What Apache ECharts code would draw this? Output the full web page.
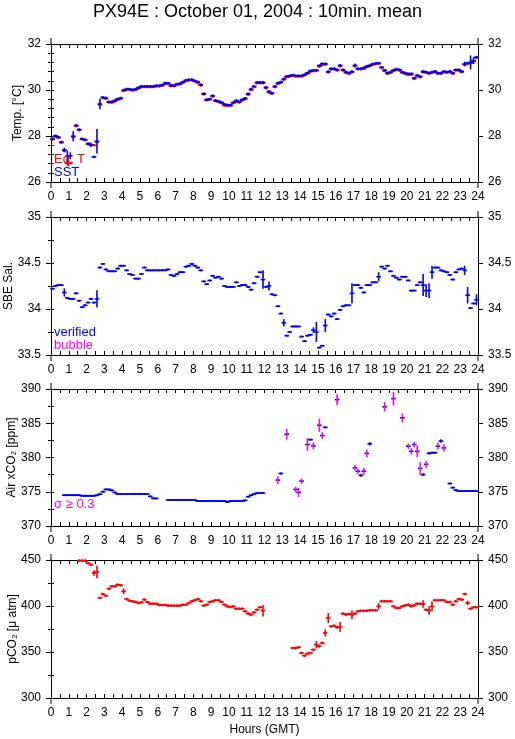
<!DOCTYPE html>
<html><head><meta charset="utf-8">
<script src="https://cdn.jsdelivr.net/npm/echarts@6/dist/echarts.min.js"></script>
<style>html,body{margin:0;padding:0;background:#fff}#c{width:515px;height:739px}</style>
</head><body><div id="c"></div>
<script>
// ---------- DATA (10-minute bins, 6 per hour, bin centres at (i+0.5)/6 h) ----------
const hourTicks = [0,1,2,3,4,5,6,7,8,9,10,11,12,13,14,15,16,17,18,19,20,21,22,23,24];
const tempTicks = [26,28,30,32];
const salTicks  = [33.5,34,34.5,35];
const xco2Ticks = [370,375,380,385,390];
const pco2Ticks = [300,350,400,450];

const sst = [
 27.88,28.01,27.95,27.74,27.39,27.12, 27.14,27.99,28.46,28.28,27.88,27.84,
 27.67,27.62,27.09,27.77,29.39,29.68, 29.65,29.49,29.49,29.54,29.61,29.65,
 29.99,30.04,30.04,30.01,30.04,30.10, 30.16,30.16,30.16,30.16,30.16,30.19,
 30.19,30.22,30.30,30.30,30.20,30.20, 30.26,30.28,30.35,30.42,30.45,30.45,
 30.40,30.35,30.23,29.84,29.58,29.61, 29.75,29.55,29.51,29.46,29.38,29.35,
 29.35,29.46,29.54,29.49,29.58,29.64, 29.84,30.04,30.16,30.33,30.33,30.33,
 30.12,29.94,29.87,30.16,30.30,30.35, 30.48,30.59,30.62,30.65,30.62,30.62,
 30.62,30.67,30.74,30.83,30.86,30.86, 31.06,31.14,31.14,30.80,30.93,30.93,
 30.88,31.07,30.88,30.78,30.74,30.80, 31.07,30.93,30.93,30.96,31.03,31.07,
 31.13,31.16,31.17,30.99,30.86,30.74, 30.78,30.86,30.91,30.88,30.78,30.74,
 30.70,30.71,30.52,30.64,30.59,30.81, 30.78,30.74,30.78,30.81,30.74,30.74,
 30.81,30.78,30.81,30.74,30.88,30.88, 30.81,31.13,31.17,31.20,31.28,31.43
];
const eqT = [
 27.85,27.97,27.92,27.71,27.36,26.82, 26.82,27.96,28.43,28.25,27.86,27.82,
 27.64,27.60,27.60,27.74,29.36,29.65, 29.62,29.46,29.45,29.50,29.58,29.62,
 29.96,30.01,30.01,29.98,30.00,30.07, 30.13,30.13,30.13,30.13,30.13,30.16,
 30.16,30.19,30.27,30.26,30.17,30.17, 30.23,30.25,30.32,30.39,30.42,30.42,
 30.37,30.31,30.20,29.81,29.55,29.58, 29.72,29.52,29.48,29.43,29.33,29.31,
 29.31,29.43,29.50,29.46,29.55,29.61, 29.80,30.00,30.13,30.30,30.30,30.30,
 30.08,29.89,29.84,30.13,30.27,30.32, 30.45,30.56,30.59,30.62,30.59,30.59,
 30.59,30.64,30.71,30.80,30.83,30.83, 31.02,31.10,31.10,30.77,30.90,30.90,
 30.85,31.03,30.85,30.75,30.71,30.77, 31.04,30.90,30.90,30.93,31.00,31.04,
 31.10,31.13,31.14,30.96,30.83,30.71, 30.75,30.83,30.88,30.85,30.75,30.70,
 30.66,30.67,30.49,30.61,30.56,30.77, 30.75,30.71,30.75,30.78,30.71,30.71,
 30.78,30.75,30.78,30.71,30.85,30.85, 30.78,31.10,31.14,31.17,31.25,31.40
];
const sstSd = [[0.75,0.1],[0.917,0.25],[1.083,0.15],[1.25,0.22],[2.25,0.1],[2.583,0.53],[2.75,0.23],[15.25,0.07],[17.083,0.08],[23.25,0.1],[23.583,0.3],[23.75,0.15]];
const eqTSd = [[0.917,0.12]];

const sal = [
 34.22,34.25,34.26,34.26,34.18,34.12, 34.11,34.11,34.17,34.09,34.02,34.04,
 34.07,34.11,34.07,34.11,34.45,34.49, 34.43,34.41,34.41,34.41,34.44,34.47,
 34.47,34.42,34.38,34.37,34.33,34.33, 34.38,34.45,34.42,34.42,34.42,34.42,
 34.42,34.42,34.42,34.43,34.37,34.36, 34.38,34.40,34.40,34.46,34.47,34.49,
 34.47,34.45,34.42,34.30,34.27,34.31, 34.36,34.34,34.35,34.33,34.25,34.24,
 34.24,34.24,34.29,34.25,34.26,34.26, 34.24,34.21,34.28,34.35,34.40,34.32,
 34.24,34.25,34.16,34.15,34.03,33.95, 33.85,33.71,33.75,33.81,33.81,33.81,
 33.70,33.65,33.71,33.72,33.77,33.75, 33.58,33.60,33.82,33.94,33.92,33.95,
 33.89,33.99,34.03,34.04,34.04,34.17, 34.26,34.26,34.23,34.18,34.26,34.26,
 34.29,34.29,34.35,34.46,34.44,34.47, 34.41,34.36,34.34,34.32,34.35,34.35,
 34.31,34.20,34.20,34.26,34.29,34.26, 34.20,34.20,34.40,34.45,34.45,34.42,
 34.41,34.40,34.37,34.32,34.40,34.43, 34.44,34.42,34.15,34.01,34.06,34.10
];
const salSd = [[0.75,0.045],[2.583,0.095],[11.917,0.1],[12.25,0.05],[13.083,0.04],[14.75,0.03],[14.917,0.11],[15.417,0.07],[16.917,0.11],[18.417,0.05],[20.917,0.12],[21.083,0.07],[21.25,0.08],[21.417,0.07],[23.25,0.05],[23.417,0.09],[23.917,0.06]];

const xco2 = [
 null,null,null,null,374.5,374.5, 374.5,374.5,374.5,374.5,374.4,374.4,
 374.4,374.4,374.4,374.5,374.66,375.0, 375.34,375.34,375.2,374.9,374.66,374.66,
 374.66,374.66,374.66,374.66,374.66,374.66, 374.66,374.66,374.66,374.32,374.03,374.03,
 null,null,null,373.79,373.79,373.79, 373.79,373.79,373.79,373.79,373.79,373.79,
 373.79,373.64,373.64,373.64,373.64,373.64, 373.64,373.64,373.64,373.64,373.64,373.5,
 373.64,373.64,373.64,373.64,373.64,373.74, 374.27,374.5,374.66,374.8,374.8,374.8,
 null,null,null,null,376.7,377.67, null,383.4,null,null,375.34,374.9,
 376.55,null,381.9,382.6,381.7,null, 384.7,383.2,384.4,null,null,null,
 388.45,null,null,null,null,null, 378.5,378.0,377.4,378.0,380.6,382.0,
 null,null,null,null,387.4,null, null,388.6,null,null,385.8,null,
 381.65,380.9,381.9,380.9,378.4,377.5, 379.0,380.6,380.7,380.7,381.65,382.4,
 381.4,null,376.2,375.6,375.24,375.1, 375.1,375.1,375.1,375.1,375.1,375.1
];
const xco2Sd = [[12.75,0.56],[12.917,0.15],[13.25,0.8],[13.75,0.4],[13.917,0.68],[14.083,0.4],[14.417,0.92],[14.583,0.15],[14.75,0.5],[15.083,0.97],[15.25,0.5],[15.417,0.1],[16.083,0.78],[17.083,0.4],[17.25,0.4],[17.417,0.2],[17.583,0.5],[17.75,0.55],[17.917,0.25],[18.75,0.7],[19.25,1.0],[19.75,0.65],[20.083,0.4],[20.25,0.45],[20.417,0.4],[20.583,0.85],[20.75,0.9],[20.917,0.2],[21.083,0.5],[21.25,0.15],[21.417,0.1],[21.583,0.1],[21.75,0.5],[21.917,0.25],[22.083,0.55],[22.417,0.15]];
const sigmaLimit = 0.3;

const pco2 = [
 null,null,null,null,null,null, null,null,null,449.3,449.3,449.3,
 446.7,444.9,435.9,437.0,408.7,413.0, 411.2,418.8,421.4,421.4,423.2,422.5,
 416.0,407.6,405.8,405.1,404.3,403.3, 404.0,406.9,404.3,402.5,402.5,402.5,
 401.1,401.1,401.1,400.4,400.4,400.4, 400.4,400.4,401.4,401.4,403.3,405.1,
 406.2,407.6,405.1,400.4,401.4,404.3, 405.1,406.2,406.2,404.3,401.4,399.6,
 398.9,399.6,397.1,397.1,397.1,394.2, 391.7,390.6,393.1,396.0,398.6,394.9,
 null,null,null,null,null,null, null,null,null,354.3,354.3,355.1,
 348.9,346.0,348.2,348.9,352.5,358.0, 356.2,359.8,370.7,387.0,377.9,378.6,
 376.8,377.2,391.7,390.6,391.3,390.6, 391.7,394.2,394.9,394.9,394.9,395.3,
 395.3,395.3,399.6,405.1,405.1,405.1, 405.1,399.6,397.8,397.8,399.6,400.7,
 401.4,399.6,400.7,402.5,402.5,402.2, 396.0,394.9,399.6,406.2,406.2,406.2,
 406.2,404.3,404.3,401.4,405.1,407.6, 406.9,413.0,403.3,397.1,398.6,398.6
];
const pco2Sd = [[2.417,3],[2.583,6.9],[4.083,3],[11.917,6.3],[14.917,4],[15.417,4],[15.583,5.4],[16.25,5.4],[16.917,4.9],[18.417,3.6],[20.917,4],[21.25,4.5],[21.417,5.4],[23.417,2.5]];

// ---------- STYLE / LAYOUT ----------
const FONT = "'Liberation Sans', Arial, Helvetica, sans-serif";
const BLUE = '#0000ff', RED = '#ff0000', MAGENTA = '#ff00ff';
const BIN_HALF_WIDTH = 0.13; // hours, half-length of the horizontal stroke
const grids = [
  {left:51, top:44, width:427, height:138},
  {left:51, top:217, width:427, height:138},
  {left:51, top:389, width:427, height:137},
  {left:51, top:560, width:427, height:138}
];

function toPoints(vals, sdList) {
  const sdMap = {};
  sdList.forEach(([h, s]) => { sdMap[Math.floor(h * 6)] = s; });
  const out = [];
  vals.forEach((v, i) => { if (v != null) out.push([(i + 0.5) / 6, v, sdMap[i] || 0]); });
  return out;
}

function crossRender(color, barColor, minHalf) {
  return function (params, api) {
    const h = api.value(0), v = api.value(1), sd = api.value(2);
    const c = api.coord([h, v]);
    const l = api.coord([h - BIN_HALF_WIDTH, v]);
    const r = api.coord([h + BIN_HALF_WIDTH, v]);
    const t = api.coord([h, v + sd]);
    const b = api.coord([h, v - sd]);
    const half = Math.max((b[1] - t[1]) / 2, minHalf);
    return {type: 'group', children: [
      {type: 'line', shape: {x1: l[0], y1: c[1], x2: r[0], y2: c[1]}, style: {stroke: color, lineWidth: 1.6}},
      {type: 'line', shape: {x1: c[0], y1: c[1] - half, x2: c[0], y2: c[1] + half}, style: {stroke: barColor(sd), lineWidth: 1.6}}
    ]};
  };
}

const xAxes = [], yAxes = [];
const panels = [
  {ticks: tempTicks, minor: 0.4, name: 'Temp. [°C]', gap: 27},
  {ticks: salTicks,  minor: 0.25, name: 'SBE Sal.', gap: 36},
  {ticks: xco2Ticks, minor: 2.5, name: 'Air xCO₂ [ppm]', gap: 33},
  {ticks: pco2Ticks, minor: 25, name: 'pCO₂ [μ atm]', gap: 32}
];
panels.forEach((p, g) => {
  const axLine = {show: true, onZero: false, lineStyle: {color: '#000', width: 1}};
  const xb = {
    gridIndex: g, type: 'value', min: hourTicks[0], max: hourTicks[hourTicks.length - 1], interval: 0.5,
    position: 'bottom', axisLine: axLine,
    axisTick: {show: true, inside: true, length: 4, lineStyle: {color: '#000', width: 1}},
    axisLabel: {show: true, color: '#000', fontSize: 12, fontFamily: FONT, margin: 9,
      formatter: v => (hourTicks.indexOf(v) >= 0 ? String(v) : '')},
    splitLine: {show: false}
  };
  if (g === 3) {
    Object.assign(xb, {name: 'Hours (GMT)', nameLocation: 'middle', nameGap: 26, nameMoveOverlap: false,
      nameTextStyle: {color: '#000', fontSize: 12, fontFamily: FONT}});
  }
  xAxes.push(xb);
  xAxes.push({
    gridIndex: g, type: 'value', min: hourTicks[0], max: hourTicks[hourTicks.length - 1], interval: 0.5,
    position: 'top', axisLine: axLine,
    axisTick: {show: true, inside: true, length: 4, lineStyle: {color: '#000', width: 1}},
    axisLabel: {show: false}, splitLine: {show: false}
  });
  const mn = p.ticks[0], mx = p.ticks[p.ticks.length - 1];
  const iv = p.ticks[1] - p.ticks[0];
  const major = (pos, withName) => {
    const a = {
      gridIndex: g, type: 'value', min: mn, max: mx, interval: iv, position: pos,
      axisLine: axLine,
      axisTick: {show: true, inside: false, length: 5, lineStyle: {color: '#000', width: 1}},
      axisLabel: {show: true, color: '#000', fontSize: 12, fontFamily: FONT, margin: 10},
      splitLine: {show: false}
    };
    if (withName) Object.assign(a, {name: p.name, nameLocation: 'middle', nameGap: p.gap, nameRotate: 90,
      nameMoveOverlap: false,
      nameTextStyle: {color: '#000', fontSize: 12, fontFamily: FONT}});
    return a;
  };
  const minor = pos => ({
    gridIndex: g, type: 'value', min: mn, max: mx, interval: p.minor, position: pos,
    axisLine: {show: false},
    axisTick: {show: true, inside: true, length: 3, lineStyle: {color: '#000', width: 1}},
    axisLabel: {show: false}, splitLine: {show: false}
  });
  yAxes.push(major('left', true), major('right', false), minor('left'), minor('right'));
});

const series = [
  {type: 'custom', name: 'Eq. T', xAxisIndex: 0, yAxisIndex: 0, renderItem: crossRender(RED, () => RED, 1.3), data: toPoints(eqT, eqTSd), z: 2},
  {type: 'custom', name: 'SST', xAxisIndex: 0, yAxisIndex: 0, renderItem: crossRender(BLUE, () => BLUE, 1.3), data: toPoints(sst, sstSd), z: 3},
  {type: 'custom', name: 'Sal', xAxisIndex: 2, yAxisIndex: 4, renderItem: crossRender(BLUE, () => BLUE, 1.0), data: toPoints(sal, salSd), z: 3},
  {type: 'custom', name: 'xCO2', xAxisIndex: 4, yAxisIndex: 8, renderItem: crossRender(BLUE, sd => (sd >= sigmaLimit ? MAGENTA : BLUE), 1.0), data: toPoints(xco2, xco2Sd), z: 3},
  {type: 'custom', name: 'pCO2', xAxisIndex: 6, yAxisIndex: 12, renderItem: crossRender(RED, () => RED, 1.3), data: toPoints(pco2, pco2Sd), z: 3}
];

// axis-frame extension of vertical axes (decoration) and panel legends
const graphic = [];
grids.forEach(gr => {
  [gr.left, gr.left + gr.width].forEach(x => {
    graphic.push({type: 'line', shape: {x1: x, y1: gr.top - 6, x2: x, y2: gr.top}, style: {stroke: '#000', lineWidth: 1}});
    graphic.push({type: 'line', shape: {x1: x, y1: gr.top + gr.height, x2: x, y2: gr.top + gr.height + 6}, style: {stroke: '#000', lineWidth: 1}});
  });
});
const legendTexts = [
  {text: 'Eq. T', color: RED, x: 54, y: 153},
  {text: 'SST', color: BLUE, x: 54, y: 166},
  {text: 'verified', color: BLUE, x: 54, y: 326},
  {text: 'bubble', color: MAGENTA, x: 54, y: 339},
  {text: 'σ ≥ 0.3', color: MAGENTA, x: 54, y: 498}
];
legendTexts.forEach(t => graphic.push({type: 'text', left: t.x, top: t.y, z: 10,
  style: {text: t.text, fill: t.color, fontSize: 13, fontFamily: FONT}}));

const chart = echarts.init(document.getElementById('c'), null, {renderer: 'canvas'});
chart.setOption({
  animation: false,
  backgroundColor: '#fff',
  title: {text: 'PX94E : October 01, 2004 : 10min. mean', left: 'center', top: 3, padding: 0,
    textStyle: {fontSize: 18, fontWeight: 'normal', color: '#000', fontFamily: FONT}},
  grid: grids.map(g => Object.assign({containLabel: false, outerBoundsMode: 'none'}, g)),
  xAxis: xAxes, yAxis: yAxes, series: series, graphic: graphic
});
</script></body></html>
